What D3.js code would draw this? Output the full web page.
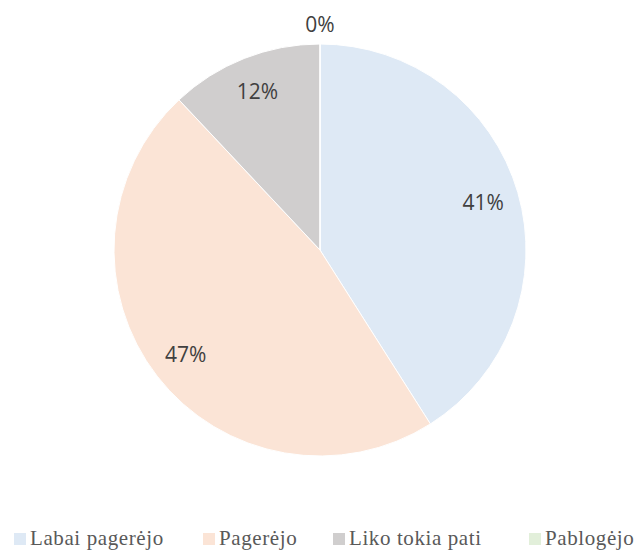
<!DOCTYPE html>
<html>
<head>
<meta charset="utf-8">
<script src="https://cdn.jsdelivr.net/npm/d3@7"></script>
<style>
  html, body { margin: 0; padding: 0; background: #fff; }
  svg { display: block; }
</style>
</head>
<body>
<div id="chart"></div>
<script>
const categories = ['Labai pagerėjo', 'Pagerėjo', 'Liko tokia pati', 'Pablogėjo'];
const shares = [41, 47, 12, 0];
const colors = ['#dee9f5', '#fbe4d6', '#d0cece', '#e2efda'];

const width = 637;
const height = 550;
const cx = 320;
const cy = 250;
const radius = 206;

const svg = d3.select('#chart').append('svg').attr('width', width).attr('height', height);

const pie = d3.pie().sort(null).value((d) => d.value);
const arcs = pie(categories.map((c, i) => ({ name: c, value: shares[i], color: colors[i] })));

const arc = d3.arc().innerRadius(0).outerRadius(radius);
const labelArc = d3.arc().innerRadius(170).outerRadius(170);
const outerArc = d3.arc().innerRadius(radius + 19).outerRadius(radius + 19);

const g = svg.append('g').attr('transform', `translate(${cx},${cy})`);

g.selectAll('path.slice')
  .data(arcs)
  .join('path')
  .attr('class', 'slice')
  .attr('d', arc)
  .attr('fill', (d) => d.data.color)
  .attr('stroke', '#fff')
  .attr('stroke-width', 1);

g.selectAll('text.pct')
  .data(arcs)
  .join('text')
  .attr('class', 'pct')
  .attr('transform', (d) => `translate(${(d.value > 0 ? labelArc : outerArc).centroid(d)})`)
  .attr('text-anchor', 'middle')
  .attr('dy', '0.35em')
  .attr('font-family', '"Open Sans", sans-serif')
  .attr('font-size', 21)
  .attr('fill', '#404040')
  .text((d) => `${d.data.value}%`);

// legend
const legendX = [14, 203, 333, 529];
const legend = svg
  .append('g')
  .selectAll('g')
  .data(categories)
  .join('g')
  .attr('transform', (_, i) => `translate(${legendX[i]},533)`);

legend.append('rect').attr('width', 12).attr('height', 12).attr('fill', (_, i) => colors[i]);
legend
  .append('text')
  .attr('x', 16)
  .attr('y', 12)
  .attr('font-family', '"Liberation Serif", "Times New Roman", serif')
  .attr('font-size', 21)
  .attr('letter-spacing', 0.6)
  .attr('fill', '#595959')
  .text((d) => d);
</script>
</body>
</html>
